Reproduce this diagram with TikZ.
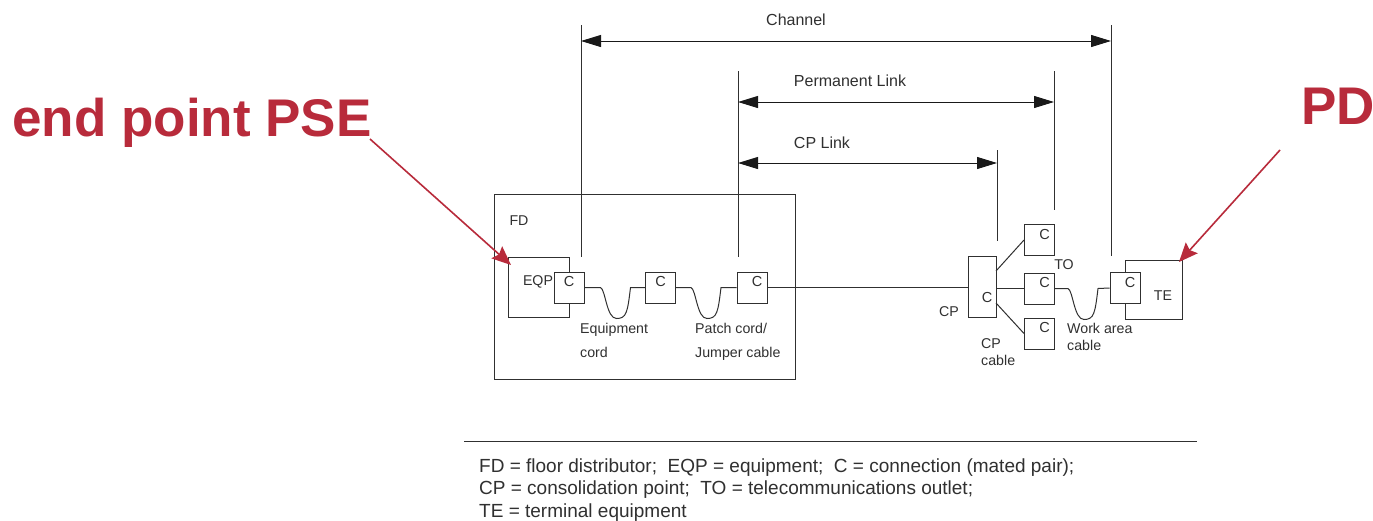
\documentclass[tikz,border=0pt]{standalone}
\usepackage{fontspec}
\setmainfont{Liberation Sans}
\usetikzlibrary{arrows.meta, positioning}
\definecolor{pered}{HTML}{B82B3B}
\definecolor{peink}{HTML}{303030}
\tikzset{
  box/.style = {draw=peink, fill=white, inner sep=0pt, line width=1pt, text=peink},
  cbox/.style = {box, minimum width=30pt, font=\fontsize{14.5}{16}\selectfont,
    text height=14.5pt, text depth=16.5pt},
  cpbox/.style = {box, minimum width=28pt, font=\fontsize{14.5}{16}\selectfont,
    text height=46pt, text depth=15pt},
  lig/.style = {draw=peink, line width=1pt},
  dim/.style = {{Triangle[length=20pt,width=12pt]}-{Triangle[length=20pt,width=12pt]},
    draw=black!90, line width=1pt},
  lab/.style = {text=peink, font=\fontsize{14.2}{16}\selectfont, inner sep=0pt},
  top/.style = {lab, font=\fontsize{16}{18}\selectfont},
  lab2/.style = {text=peink, font=\fontsize{14.2}{24}\selectfont, inner sep=0pt,
    align=left, anchor=north west},
  lab3/.style = {text=peink, font=\fontsize{14.2}{17}\selectfont, inner sep=0pt,
    align=left, anchor=north west},
  leg/.style = {text=peink, font=\fontsize{19}{22.5}\selectfont, inner sep=0pt,
    align=left, anchor=north west},
  big/.style = {text=pered, font=\fontsize{53}{60}\selectfont\bfseries, inner sep=0pt},
  seta/.style = {-{Stealth[length=19pt,width=16pt,inset=3pt]}, draw=pered, line width=1.6pt}
}
\newcommand{\cR}{\hspace*{10pt}C}
\newcommand{\cordline}[3]{%
  \draw [lig] (#1.east) -- ++(#3,0) .. controls +(5,2) and +(-10,0) .. ++(16,31)
    .. controls +(10,0) and +(-3,25) .. ++(14,-31) -- (#2.west);}

\begin{document}
\begin{tikzpicture}[x=1pt, y=-1pt]
  \useasboundingbox [fill=white] (0,0) rectangle (1373,520);
  % left side
  \node [box, minimum width=301pt, minimum height=185pt] (fd) at (644.5,286.5) {};
  \node [lab] (fdt) at (519,221) {FD};
  \node [box, minimum width=61pt, minimum height=60pt] (eqp) at (538.5,287) {};
  \node [lab] (eqpt) at (538,282) {EQP};
  \node [cbox] (c1) at (569,287.5) {C};
  \node [cbox] (c2) at (660.5,287.5) {C};
  \node [cbox] (c3) at (752,287.5) {\cR};
  % right side
  \node [box, minimum width=57pt, minimum height=59pt] (te) at (1153.5,289.5) {};
  \node [lab] (tet) at (1163,296) {TE};
  \node [cpbox] (cp) at (982,286.5) {\cR};
  \node [cbox] (to1) at (1039.5,240) {\cR};
  \node [cbox] (to2) at (1039.5,288.5) {\cR};
  \node [cbox] (to3) at (1039.5,333.5) {\cR};
  \node [cbox] (c4) at (1125,288) {\cR};
  % cables
  \cordline{c1}{c2}{16}
  \cordline{c2}{c3}{15}
  \cordline{to2}{c4}{13}
  \draw [lig] (c3.east) -- (c3.east -| cp.west);
  \draw [lig] (cp.east |- to2) -- (to2.west);
  \coordinate (cpa) at (996,271);
  \coordinate (cpb) at (996,303);
  \draw [lig] (cpa) -- (to1.west);
  \draw [lig] (cpb) -- (to3.west);
  % links
  \coordinate (chl) at (581,25);
  \coordinate (chle) at (581,257);
  \coordinate (chr) at (1111,25);
  \coordinate (chre) at (1111,256);
  \coordinate (pll) at (738,71);
  \coordinate (plle) at (738,257);
  \coordinate (plr) at (1054,71);
  \coordinate (plre) at (1054,210);
  \coordinate (cpl) at (997,150);
  \coordinate (cple) at (997,241);
  \foreach \a/\b in {chl/chle, chr/chre, pll/plle, plr/plre, cpl/cple}
    \draw [lig] (\a) -- (\b);
  \coordinate (cha) at (581,41);
  \coordinate (chb) at (1111,41);
  \coordinate (pla) at (738,102);
  \coordinate (plb) at (1054,102);
  \coordinate (cla) at (738,163);
  \coordinate (clb) at (997,163);
  \draw [dim] (cha) -- (chb);
  \draw [dim] (pla) -- (plb);
  \draw [dim] (cla) -- (clb);
  \node [top] (chn) at (796,20) {Channel};
  \node [top] (pln) at (850,81) {Permanent Link};
  \node [top] (cln) at (822,143) {CP Link};
  % labels
  \node [lab2] (eqc) at (580,323) {Equipment\\cord};
  \node [lab2] (pat) at (695,323) {Patch cord/\\Jumper cable};
  \node [lab] (tot) at (1064,265) {TO};
  \node [lab] (cpt) at (949,312) {CP};
  \node [lab3] (cpc) at (981,338) {CP\\cable};
  \node [lab3] (wac) at (1067,323) {Work area\\cable};
  % legend
  \coordinate (lega) at (464,441);
  \coordinate (legb) at (1197,441);
  \draw [lig] (lega) -- (legb);
  \node [leg] (legt) at (479,458.5) {FD = floor distributor;\ \ EQP = equipment;\ \ C = connection (mated pair);\\
    CP = consolidation point;\ \ TO = telecommunications outlet;\\
    TE = terminal equipment};
  % red
  \node [big] (pse) at (192,122.5) {end point PSE};
  \node [big] (pd) at (1338,106) {PD};
  \coordinate (psea) at (370,139);
  \coordinate (pseb) at (511,265);
  \coordinate (pda) at (1280,150);
  \coordinate (pdb) at (1179,262);
  \draw [seta] (psea) -- (pseb);
  \draw [seta] (pda) -- (pdb);
\end{tikzpicture}
\end{document}
